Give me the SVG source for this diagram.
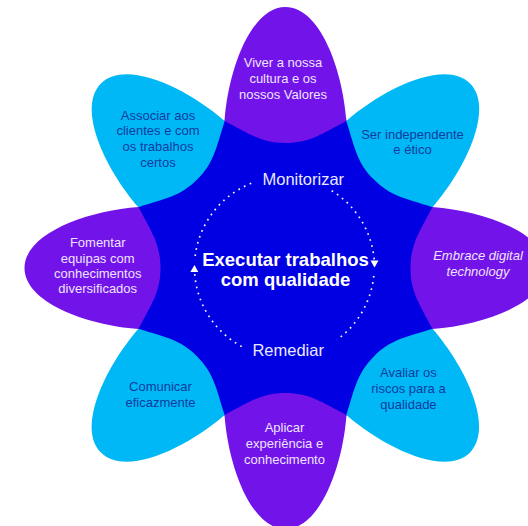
<svg xmlns="http://www.w3.org/2000/svg" width="528" height="526" viewBox="0 0 528 526">
<defs>
<style>
.pp{fill:#7213EA}
.pc{fill:#00B8F5}
.core{fill:#0000E3}
.t{font-family:'Liberation Sans',Arial,sans-serif;font-size:13px;text-anchor:middle}
.tp{fill:#EEE4FF}
.tc{fill:#0F3C9E}
.ti{font-style:italic}
.title{font-family:'Liberation Sans',Arial,sans-serif;font-size:18.5px;font-weight:bold;fill:#FFFFFF;text-anchor:middle}
.lab{font-family:'Liberation Sans',Arial,sans-serif;font-size:16.5px;fill:#E8EAFF;text-anchor:middle}
.dot{fill:none;stroke:#F2F4FF;stroke-width:1.7;stroke-dasharray:1.7 4.6}
</style>
<path id="petal" d="M-61,-147 C-57,-200 -34,-261 0,-261 C34,-261 57,-200 61,-147 C36,-134 24,-125 0,-125 C-24,-125 -36,-134 -61,-147 Z"/>
<marker id="arr" markerUnits="userSpaceOnUse" markerWidth="9" markerHeight="9" viewBox="0 0 9 9" refX="7" refY="4.5" orient="auto">
<path d="M0,0.5 L7,4.5 L0,8.5 Z" fill="#FFFFFF"/>
</marker>
</defs>
<g id="core">
<polygon class="core" points="224.5,120.6 346.5,120.6 432.9,207 432.9,329 346.5,415.4 224.5,415.4 138.1,329 138.1,207"/>
</g>
<g id="petal-top">
<use href="#petal" class="pp" transform="translate(285.5,268)"/>
<text class="t tp" x="283" y="66.5">Viver a nossa</text>
<text class="t tp" x="283" y="82.5">cultura e os</text>
<text class="t tp" x="283" y="98.5">nossos Valores</text>
</g>
<g id="petal-top-right">
<use href="#petal" class="pc" transform="translate(285.5,268) rotate(45)"/>
<text class="t tc" x="412.5" y="138.5">Ser independente</text>
<text class="t tc" x="412.5" y="154">e ético</text>
</g>
<g id="petal-right">
<use href="#petal" class="pp" transform="translate(285.5,268) rotate(90)"/>
<text class="t tp ti" x="478" y="260">Embrace digital</text>
<text class="t tp ti" x="478" y="276">technology</text>
</g>
<g id="petal-bottom-right">
<use href="#petal" class="pc" transform="translate(285.5,268) rotate(135)"/>
<text class="t tc" x="408.4" y="377">Avaliar os</text>
<text class="t tc" x="408.4" y="393">riscos para a</text>
<text class="t tc" x="408.4" y="408.5">qualidade</text>
</g>
<g id="petal-bottom">
<use href="#petal" class="pp" transform="translate(285.5,268) rotate(180)"/>
<text class="t tp" x="284.5" y="432.4">Aplicar</text>
<text class="t tp" x="284.5" y="448">experiência e</text>
<text class="t tp" x="284.5" y="464.4">conhecimento</text>
</g>
<g id="petal-bottom-left">
<use href="#petal" class="pc" transform="translate(285.5,268) rotate(225)"/>
<text class="t tc" x="160.5" y="391.3">Comunicar</text>
<text class="t tc" x="160.5" y="407">eficazmente</text>
</g>
<g id="petal-left">
<use href="#petal" class="pp" transform="translate(285.5,268) rotate(270)"/>
<text class="t tp" x="97.7" y="247.3">Fomentar</text>
<text class="t tp" x="97.7" y="262.7">equipas com</text>
<text class="t tp" x="97.7" y="277.9">conhecimentos</text>
<text class="t tp" x="97.7" y="293.3">diversificados</text>
</g>
<g id="petal-top-left">
<use href="#petal" class="pc" transform="translate(285.5,268) rotate(315)"/>
<text class="t tc" x="158" y="119.5">Associar aos</text>
<text class="t tc" x="158" y="135.3">clientes e com</text>
<text class="t tc" x="158" y="151">os trabalhos</text>
<text class="t tc" x="158" y="166.7">certos</text>
</g>
<g id="center-title">
<text class="title" x="285.5" y="266">Executar trabalhos</text>
<text class="title" x="285.5" y="286">com qualidade</text>
</g>
<g id="connectors">
<path class="dot" d="M331.7,190.7 A90,90 0 0 1 374.5,267.5" marker-end="url(#arr)"/>
<path class="dot" d="M373.8,276 A90,90 0 0 1 336.9,339.8"/>
<path class="dot" d="M241.7,346.5 A90,90 0 0 1 194.5,265" marker-end="url(#arr)"/>
<path class="dot" d="M195.2,256 A90,90 0 0 1 253.7,182.4"/>
<text class="lab" x="303.3" y="185">Monitorizar</text>
<text class="lab" x="288.2" y="355.7">Remediar</text>
</g>
</svg>
